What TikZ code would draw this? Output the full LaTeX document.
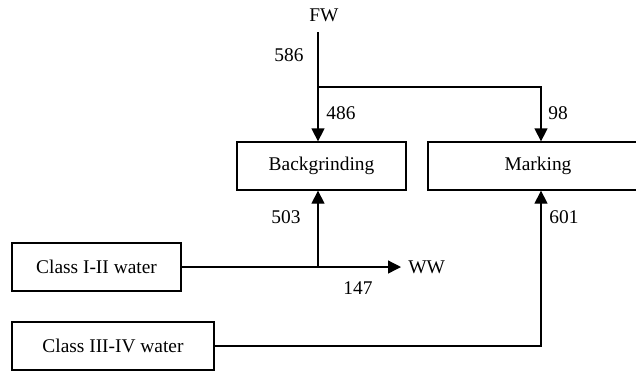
\documentclass[tikz,border=0pt]{standalone}
\usepackage{fontspec}
\setmainfont{Liberation Serif}
\usetikzlibrary{arrows.meta, calc}

\begin{document}
\begin{tikzpicture}[x=0.5pt, y=-0.5pt, font=\fontsize{9.7}{11}\selectfont,
    unit/.style={draw, line width=0.65pt, minimum width=#1, minimum height=24pt, inner sep=0pt},
    flow/.style={line width=0.65pt, -{Triangle[length=6.5pt, width=6.5pt]}},
    pipe/.style={line width=0.65pt}]
    \clip (0,0) rectangle (636,372);
    \node (fw) at (324,15) {FW};
    \coordinate (fwtop) at (318,32);
    \coordinate (split) at (318,87);
    \coordinate (mktop) at (541,87);
    \node[unit=84.5pt] (bg) at (321.5,166) {Backgrinding};
    \node[unit=110pt] (mk) at (538,166) {Marking};
    \node[unit=84.5pt] (cone) at (96.5,267) {Class I-II water};
    \node[unit=101pt] (cthree) at (113,346) {Class III-IV water};
    \node[anchor=west, inner sep=1pt] (ww) at (406,267) {WW};
    \coordinate (tee) at (318,267);
    \coordinate (mkup) at (541,346);
    \draw[pipe] (fwtop) -- (split);
    \draw[flow] (split) -- (split |- bg.north);
    \draw[flow] (split) -- (mktop) -- (mktop |- mk.north);
    \draw[flow] (cone.east) -- ($(ww.west)+(-5,0)$);
    \draw[flow] (tee) -- (tee |- bg.south);
    \draw[flow] (cthree.east) -- (mkup) -- (mkup |- mk.south);
    \node (fsix) at (289,55) {586};
    \node (bgin) at (341,113) {486};
    \node (mkin) at (558,113) {98};
    \node (bgre) at (286,217) {503};
    \node (mkre) at (564,217) {601};
    \node (wwout) at (358,288) {147};
\end{tikzpicture}
\end{document}
